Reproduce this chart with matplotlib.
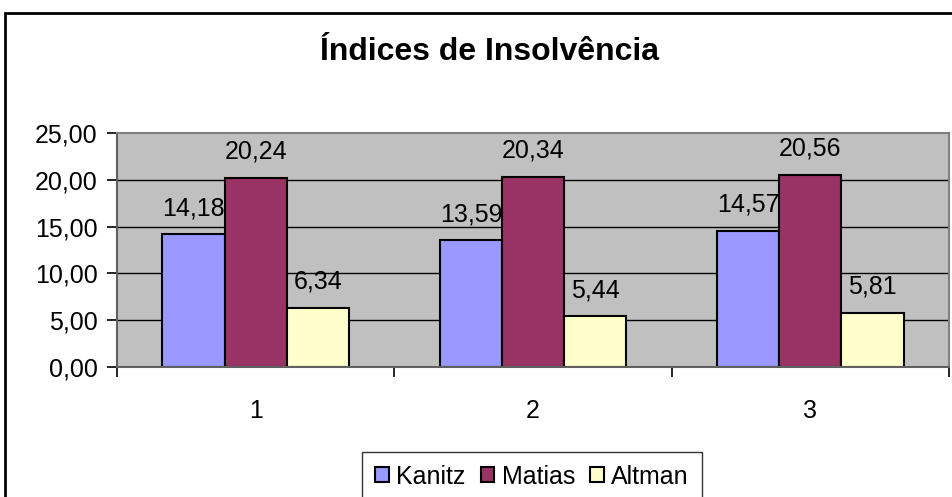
import numpy as np
import matplotlib.pyplot as plt
from matplotlib.patches import Rectangle

plt.rcParams['font.family'] = ['Liberation Sans', 'DejaVu Sans']

categories = ["1", "2", "3"]
series_names = ["Kanitz", "Matias", "Altman"]
kanitz = [14.18, 13.59, 14.57]
matias = [20.24, 20.34, 20.56]
altman = [6.34, 5.44, 5.81]
colors = ["#9999FF", "#993366", "#FFFFCC"]
y_ticks = [0, 5, 10, 15, 20, 25]

FS = 18


def br(v):
    return f"{v:.2f}".replace(".", ",")


fig = plt.figure(figsize=(9.53, 4.97), dpi=100)
ax = fig.add_axes([117 / 953, 1 - 367 / 497, 832 / 953, 234 / 497])
ax.set_facecolor("#C0C0C0")

x = np.arange(len(categories))
width = 0.224
for i, (name, vals) in enumerate(zip(series_names, [kanitz, matias, altman])):
    pos = x + (i - 1) * width
    bars = ax.bar(pos, vals, width, color=colors[i], edgecolor="black",
                  linewidth=1.5, label=name, zorder=3)
    for b, v in zip(bars, vals):
        ax.annotate(br(v), (b.get_x() + b.get_width() / 2, v),
                    xytext=(0, 13.5), textcoords="offset points",
                    ha="center", va="baseline", fontsize=FS)

ax.set_xlim(-0.5, 2.5)
ax.set_ylim(0, 25)
ax.set_yticks(y_ticks)
ax.set_yticklabels([br(v) for v in y_ticks], fontsize=FS)
ax.set_xticks(x)
ax.set_xticklabels(categories, fontsize=FS)
ax.set_xticks([-0.5, 0.5, 1.5, 2.5], minor=True)
ax.tick_params(axis="x", which="major", length=0, pad=23)
ax.tick_params(axis="x", which="minor", length=7, width=1.2, color="black", direction="out")
ax.tick_params(axis="y", length=7, width=1.2, color="black", direction="out", pad=7)

for yv in y_ticks[1:-1]:
    ax.axhline(yv, color="black", linewidth=1, zorder=1)

for side in ["top", "right"]:
    ax.spines[side].set_color("#808080")
    ax.spines[side].set_linewidth(1.5)
for side in ["left", "bottom"]:
    ax.spines[side].set_color("#606060")
    ax.spines[side].set_linewidth(1.5)
ax.spines["bottom"].set_zorder(4)

fig.text(490 / 953, 1 - 52 / 497, "Índices de Insolvência", ha="center", va="center",
         fontsize=23, fontweight="bold")

fig.patches.append(Rectangle((5 / 953, -0.2), 1.2, 1.2 - 13 / 497, transform=fig.transFigure,
                             fill=False, edgecolor="black", linewidth=2))

leg = fig.legend(loc="upper center", bbox_to_anchor=(532 / 953, 1 - 452 / 497), ncol=3,
                 fontsize=FS, frameon=True, fancybox=False, edgecolor="black",
                 handlelength=0.55, handleheight=0.55, handletextpad=0.3,
                 columnspacing=0.6, borderpad=0.5, borderaxespad=0)
leg.get_frame().set_linewidth(1)
for h in leg.legend_handles:
    h.set_linewidth(1.5)

fig.savefig("out.png", dpi=100)
